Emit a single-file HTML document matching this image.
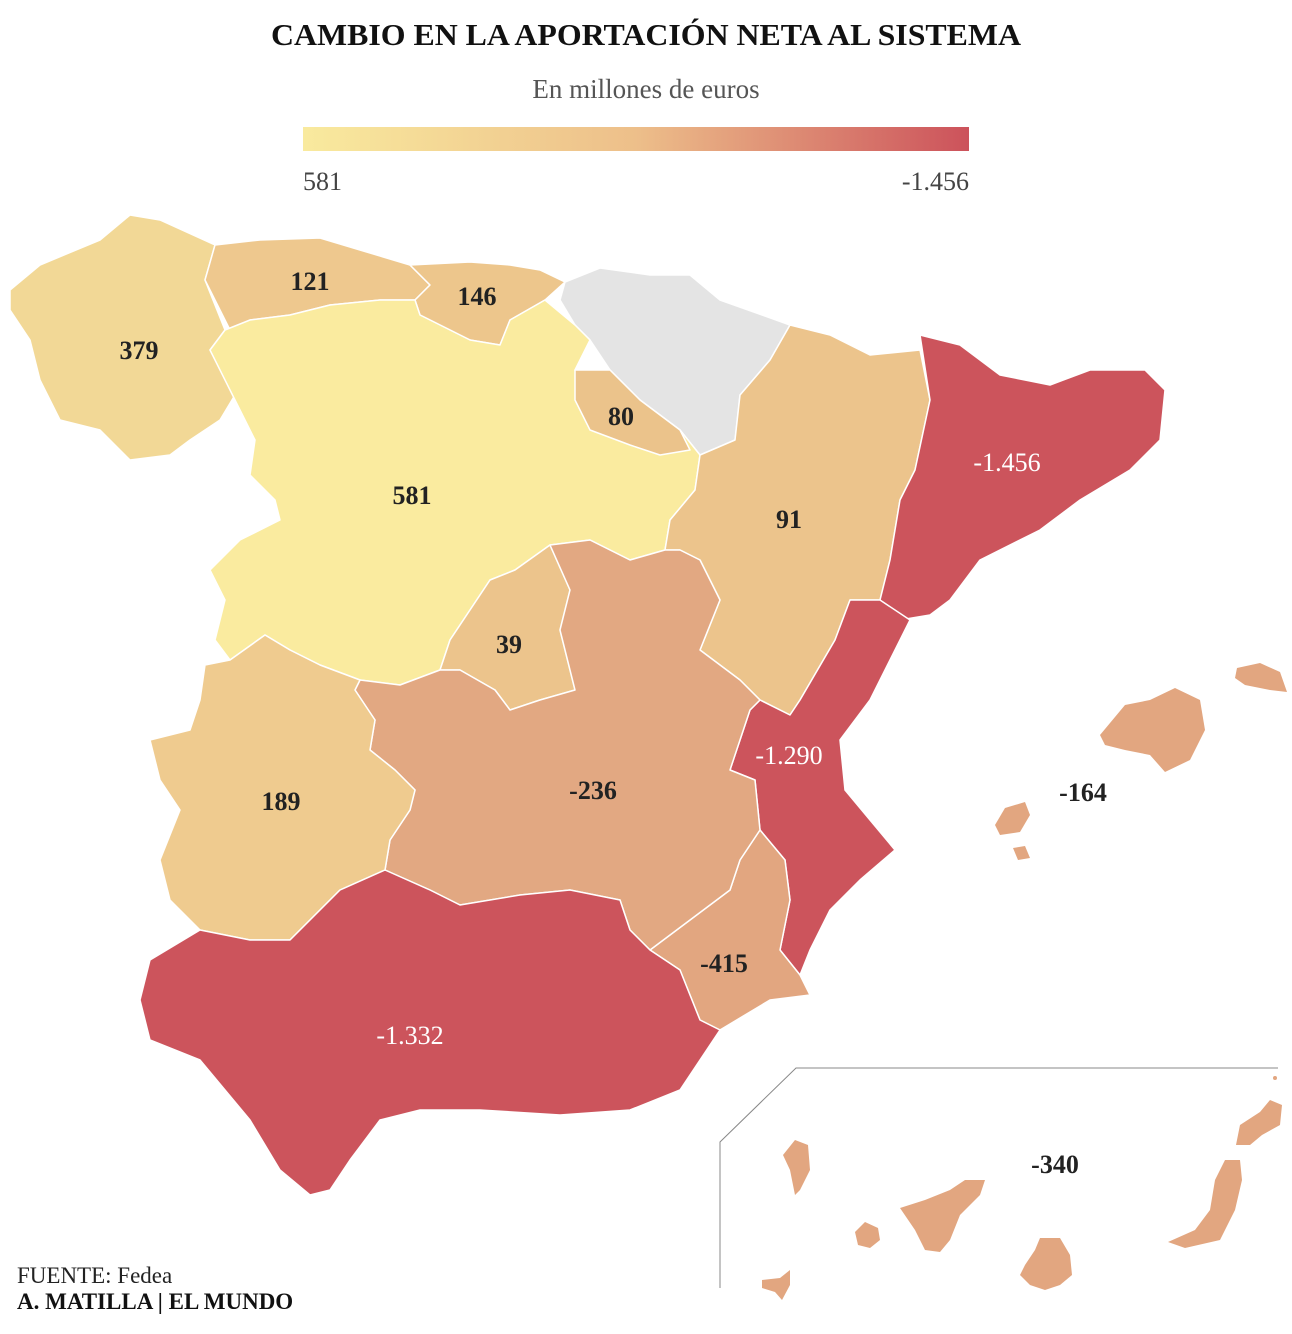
<!DOCTYPE html>
<html><head><meta charset="utf-8"><style>
body{margin:0;background:#fff;}
svg{display:block;}
.t{font-family:"Liberation Serif",serif;}
.lb{font-family:"Liberation Serif",serif;font-weight:bold;font-size:26px;text-anchor:middle;fill:#222;}
.lw{fill:#fff;font-weight:normal;}
</style></head><body>
<svg width="1292" height="1334" viewBox="0 0 1292 1334">
<defs><linearGradient id="g" x1="0" x2="1"><stop offset="0" stop-color="#F9EA9E"/><stop offset="0.5" stop-color="#EDBF8A"/><stop offset="1" stop-color="#CC525B"/></linearGradient></defs>
<text class="t" x="646" y="45" font-size="31" font-weight="bold" text-anchor="middle" fill="#111" textLength="750" lengthAdjust="spacingAndGlyphs">CAMBIO EN LA APORTACIÓN NETA AL SISTEMA</text>
<text class="t" x="646" y="98" font-size="27" text-anchor="middle" fill="#555">En millones de euros</text>
<rect x="303" y="127" width="666" height="24" fill="url(#g)"/>
<text class="t" x="303" y="190" font-size="26" fill="#444">581</text>
<text class="t" x="969" y="190" font-size="26" fill="#444" text-anchor="end">-1.456</text>
<g stroke="#fff" stroke-width="1.5" stroke-linejoin="round">
<polygon fill="#F2D896" points="10,290 40,265 100,240 130,215 160,220 215,245 205,280 225,330 210,350 235,395 220,420 190,440 170,455 130,460 100,430 60,420 40,380 30,340 10,310"/>
<polygon fill="#EEC88E" points="215,245 260,240 320,238 360,250 410,265 430,285 415,300 380,300 330,305 290,315 250,320 230,330 205,280"/>
<polygon fill="#EDC68C" points="410,265 470,262 510,265 540,270 565,282 545,300 510,320 500,345 470,340 450,330 420,315 415,300 430,285"/>
<polygon fill="#E4E4E4" points="565,282 600,268 650,275 690,275 720,300 790,325 770,360 740,395 735,440 700,455 680,430 640,400 610,370 590,340 575,325 560,300"/>
<polygon fill="#FAEB9F" points="250,320 290,315 330,305 380,300 415,300 420,315 470,340 500,345 510,320 545,300 575,325 590,340 575,370 580,395 640,400 680,430 700,455 695,490 670,520 665,550 630,560 590,540 550,545 515,570 490,580 470,610 450,640 440,670 400,685 360,680 320,665 290,650 265,635 230,660 215,640 225,600 210,570 240,540 280,520 275,500 250,475 255,440 235,400 210,350 225,330"/>
<polygon fill="#EBC38B" points="575,370 610,370 640,400 680,430 690,450 660,455 630,445 590,430 575,400"/>
<polygon fill="#ECC48C" points="740,395 770,360 790,325 830,335 870,355 920,350 930,400 915,470 900,500 890,560 880,600 850,600 835,640 800,700 790,715 760,700 740,680 700,650 720,600 700,560 680,550 665,550 670,520 695,490 700,455 735,440"/>
<polygon fill="#CC545C" points="920,335 960,345 1000,375 1050,385 1090,370 1145,370 1165,390 1160,440 1130,470 1080,500 1040,530 980,560 950,600 930,615 900,620 880,600 890,560 900,500 915,470 930,400"/>
<polygon fill="#CC545C" points="850,600 880,600 910,620 890,660 870,700 840,740 845,790 870,820 895,850 860,880 830,910 810,950 800,975 780,950 790,900 785,860 760,830 755,780 730,770 740,740 750,710 760,700 790,715 800,700 835,640"/>
<polygon fill="#E2A680" points="760,830 785,860 790,900 780,950 800,975 810,995 770,1000 720,1030 700,1020 680,970 650,950 690,920 730,890 740,860"/>
<polygon fill="#ECC48C" points="515,570 550,545 570,590 560,630 575,690 540,700 510,710 495,690 460,670 440,670 450,640 470,610 490,580"/>
<polygon fill="#E2A882" points="550,545 590,540 630,560 665,550 680,550 700,560 720,600 700,650 740,680 760,700 750,710 740,740 730,770 755,780 760,830 740,860 730,890 690,920 650,950 630,930 620,900 570,890 520,895 460,905 430,890 385,870 390,840 410,810 415,790 395,770 370,750 375,720 355,690 360,680 400,685 440,670 460,670 495,690 510,710 540,700 575,690 560,630 570,590"/>
<polygon fill="#EFCB8F" points="205,665 230,660 265,635 290,650 320,665 360,680 355,690 375,720 370,750 395,770 415,790 410,810 390,840 385,870 340,890 320,910 290,940 250,940 200,930 170,900 160,860 180,810 160,780 150,740 190,730 200,700"/>
<polygon fill="#CC545C" points="150,960 200,930 250,940 290,940 320,910 340,890 385,870 430,890 460,905 520,895 570,890 620,900 630,930 650,950 680,970 700,1020 720,1030 700,1060 680,1090 630,1110 560,1115 480,1110 420,1110 380,1120 350,1160 330,1190 310,1195 280,1170 250,1120 200,1060 150,1040 140,1000"/>
</g>
<g fill="#E2A680">
<polygon points="1100,735 1125,705 1150,700 1175,688 1200,700 1205,730 1190,760 1165,772 1150,755 1125,750 1105,745"/>
<polygon points="1237,668 1260,663 1280,672 1287,692 1270,690 1245,685 1235,678"/>
<polygon points="995,825 1005,808 1025,802 1030,815 1020,832 1000,835"/>
<polygon points="1013,848 1025,846 1030,858 1018,860"/>
<polygon points="783,1155 795,1140 808,1145 810,1170 800,1190 795,1195 790,1170"/>
<polygon points="900,1208 925,1200 950,1190 965,1180 985,1180 980,1195 960,1215 950,1240 940,1252 925,1250 915,1230"/>
<polygon points="855,1232 865,1222 878,1228 880,1240 870,1248 858,1245"/>
<polygon points="762,1280 780,1278 790,1270 790,1285 782,1300 775,1292 762,1288"/>
<polygon points="1025,1265 1035,1250 1040,1238 1060,1238 1070,1255 1072,1275 1060,1285 1045,1290 1030,1285 1020,1275"/>
<polygon points="1168,1242 1195,1230 1210,1210 1215,1180 1225,1160 1240,1160 1242,1180 1235,1210 1220,1240 1185,1248"/>
<polygon points="1236,1145 1240,1125 1260,1112 1270,1100 1282,1105 1280,1125 1262,1135 1250,1145"/>
<circle cx="1275" cy="1078" r="2"/>
</g>
<polyline points="720,1288 720,1142 796,1068 1278,1068" fill="none" stroke="#888" stroke-width="1"/>
<text class="lb" x="139" y="359">379</text>
<text class="lb" x="310" y="290">121</text>
<text class="lb" x="477" y="305">146</text>
<text class="lb" x="412" y="504">581</text>
<text class="lb" x="621" y="425">80</text>
<text class="lb" x="789" y="528">91</text>
<text class="lb lw" x="1007" y="471">-1.456</text>
<text class="lb" x="509" y="653">39</text>
<text class="lb" x="281" y="810">189</text>
<text class="lb" x="593" y="799">-236</text>
<text class="lb lw" x="789" y="764">-1.290</text>
<text class="lb" x="724" y="972">-415</text>
<text class="lb lw" x="410" y="1044">-1.332</text>
<text class="lb" x="1083" y="801">-164</text>
<text class="lb" x="1055" y="1173">-340</text>
<text class="t" x="17" y="1283" font-size="23" fill="#222">FUENTE: Fedea</text>
<text class="t" x="17" y="1309" font-size="23" font-weight="bold" fill="#111">A. MATILLA | EL MUNDO</text>
</svg>
</body></html>
